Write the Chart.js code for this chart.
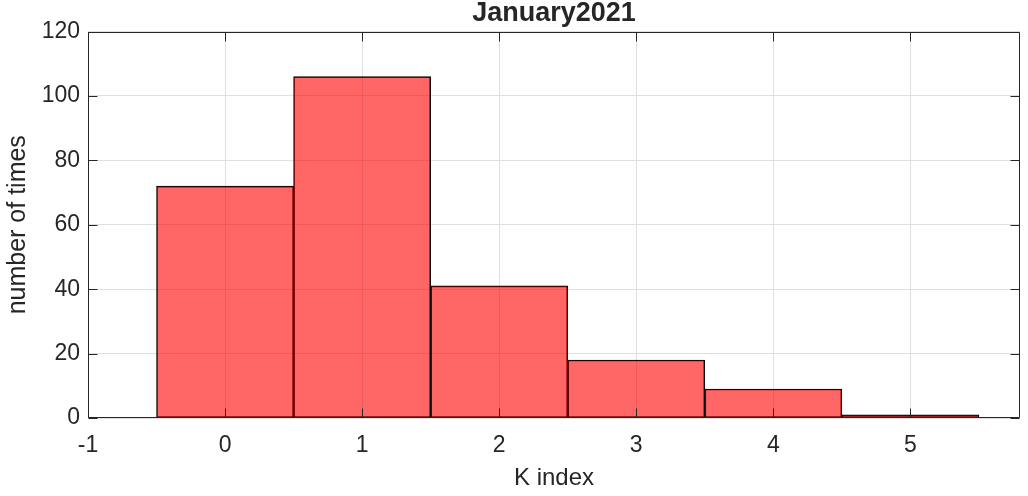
<!DOCTYPE html>
<html>
<head>
<meta charset="utf-8">
<script src="https://cdn.jsdelivr.net/npm/chart.js@4"></script>
<style>
html,body{margin:0;padding:0;background:#fff;}
#wrap{width:1028px;height:496px;position:relative;}
</style>
</head>
<body>
<div id="wrap"><canvas id="c" width="1028" height="496"></canvas></div>
<script>
// Data
const kIndex = [0, 1, 2, 3, 4, 5];
const counts = [72, 106, 41, 18, 9, 1];
const chartTitle = 'January2021';
const xLabel = 'K index';
const yLabel = 'number of times';
const xMin = -1, xMax = 5.8;
const yMin = 0, yMax = 120, yStep = 20;

const TXT = '#262626';
const FONT = '"Liberation Sans", Arial, sans-serif';

const boxTicks = {
  id: 'boxTicks',
  afterDatasetsDraw(chart) {
    const {ctx, chartArea: a, scales} = chart;
    const L = Math.round(a.left) + 0.5, R = Math.round(a.right) - 0.5;
    const T = Math.round(a.top) + 0.5, B = Math.round(a.bottom) - 0.5;
    ctx.save();
    ctx.strokeStyle = TXT;
    ctx.lineWidth = 1;
    ctx.beginPath();
    ctx.rect(L, T, R - L, B - T);
    const tl = 9;
    scales.x.ticks.forEach(t => {
      const px = Math.round(scales.x.getPixelForValue(t.value)) + 0.5;
      ctx.moveTo(px, B); ctx.lineTo(px, B - tl);
      ctx.moveTo(px, T); ctx.lineTo(px, T + tl);
    });
    scales.y.ticks.forEach(t => {
      const py = Math.round(scales.y.getPixelForValue(t.value)) + 0.5;
      ctx.moveTo(L, py); ctx.lineTo(L + tl, py);
      ctx.moveTo(R, py); ctx.lineTo(R - tl, py);
    });
    ctx.stroke();
    ctx.restore();
  }
};

new Chart(document.getElementById('c'), {
  type: 'bar',
  data: {
    datasets: [{
      data: kIndex.map((k, i) => ({x: k, y: counts[i]})),
      backgroundColor: 'rgba(255,0,0,0.6)',
      borderColor: '#000000',
      borderWidth: 1,
      borderSkipped: false,
      barPercentage: 1,
      categoryPercentage: 1
    }]
  },
  options: {
    responsive: false,
    animation: false,
    devicePixelRatio: 1,
    layout: {padding: {left: 0, right: 8, top: 0, bottom: 0}},
    plugins: {
      legend: {display: false},
      tooltip: {enabled: false},
      title: {
        display: true,
        fullSize: false,
        text: chartTitle,
        color: TXT,
        font: {family: FONT, size: 27, weight: 'bold', lineHeight: 1.0},
        padding: {top: 0, bottom: 4.5}
      }
    },
    scales: {
      x: {
        type: 'linear',
        min: xMin, max: xMax,
        offset: false,
        grid: {offset: false, color: '#dfdfdf', drawTicks: false},
        border: {display: false},
        ticks: {stepSize: 1, includeBounds: false, color: TXT, padding: 14,
                font: {family: FONT, size: 23}, maxRotation: 0},
        title: {display: true, text: xLabel, color: TXT,
                font: {family: FONT, size: 24, lineHeight: 1.2},
                padding: {top: 0, bottom: 3}},
        afterFit(s) { s.height = 78; }
      },
      y: {
        min: yMin, max: yMax,
        grid: {color: '#dfdfdf', drawTicks: false},
        border: {display: false},
        ticks: {stepSize: yStep, color: TXT, padding: 8,
                font: {family: FONT, size: 23}},
        title: {display: true, text: yLabel, color: TXT,
                font: {family: FONT, size: 25, lineHeight: 1.2},
                padding: {top: 3, bottom: 0}},
        afterFit(s) { s.width = 88; }
      }
    }
  },
  plugins: [boxTicks]
});
</script>
</body>
</html>
